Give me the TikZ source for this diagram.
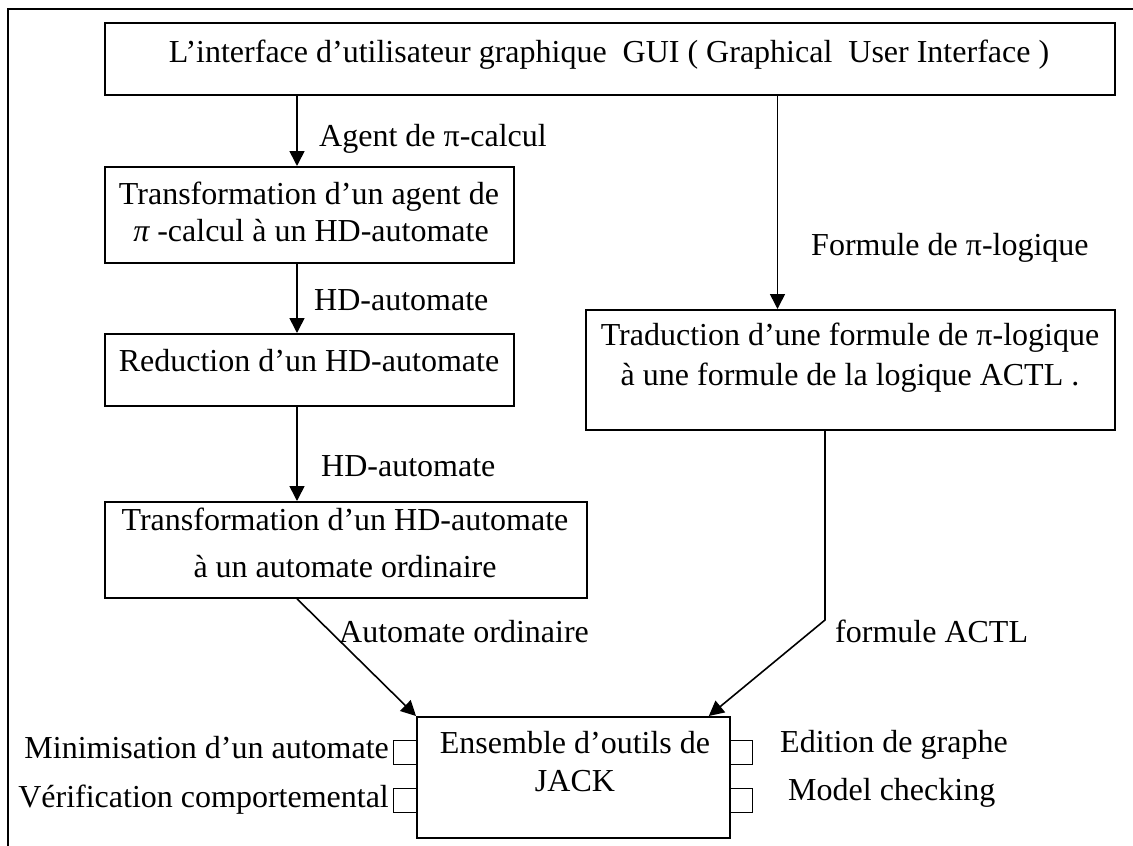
\documentclass[tikz,border=0pt]{standalone}
\usepackage{fontspec}
\setmainfont{Liberation Serif}
\usetikzlibrary{arrows.meta}
\begin{document}
\begin{tikzpicture}[x=1pt, y=-1pt,
  font=\fontsize{32}{38}\selectfont,
  box/.style={draw, line width=1.8pt, rectangle, inner sep=0pt, anchor=north west},
  txt/.style={anchor=base, inner sep=0pt},
  lbl/.style={anchor=base west, inner sep=0pt},
  arr/.style={line width=1.6pt, -{Triangle[length=15pt,width=15pt]}},
  port/.style={draw, line width=1.3pt, rectangle, anchor=north west, inner sep=0pt,
               minimum width=23pt, minimum height=24pt}]
\useasboundingbox (0,0) rectangle (1133,846);

% outer frame
\draw[line width=2pt] (8,850) -- (8,9) -- (1140,9);

% boxes
\node[box, minimum width=1010pt, minimum height=72pt] (gui) at (104,22) {};
\node[box, minimum width=409pt, minimum height=96pt] (trans) at (104,166) {};
\node[box, minimum width=409pt, minimum height=72pt] (reduc) at (104,333) {};
\node[box, minimum width=482pt, minimum height=96pt] (ordin) at (104,501) {};
\node[box, minimum width=529pt, minimum height=120pt] (tradu) at (585,309) {};

% tool ports of the JACK box
\node[port] (pML) at (393,740) {};
\node[port] (pVL) at (393,788) {};
\node[port] (pER) at (729,740) {};
\node[port] (pMR) at (729,788) {};
\node[box, fill=white, minimum width=313pt, minimum height=121pt] (jack) at (416,716) {};

% box texts
\node[txt] (guiT) at (609,62) {L’interface d’utilisateur graphique\ \ GUI ( Graphical\ \ User Interface )};
\node[txt] (transA) at (309,204) {Transformation d’un agent de};
\node[txt] (transB) at (311,241) {{\itshape π} -calcul à un HD-automate};
\node[txt] (reducT) at (309,371) {Reduction d’un HD-automate};
\node[txt] (ordinA) at (345,530) {Transformation d’un HD-automate};
\node[txt] (ordinB) at (345,577) {à un automate ordinaire};
\node[txt] (traduA) at (850,345) {Traduction d’une formule de π-logique};
\node[txt] (traduB) at (850,385) {à une formule de la logique ACTL .};
\node[txt] (jackA) at (575,753) {Ensemble d’outils de};
\node[txt] (jackB) at (575,791) {JACK};

% connector labels
\node[lbl] (lAgent) at (319,146) {Agent de π-calcul};
\node[lbl] (lHD1) at (314,310) {HD-automate};
\node[lbl] (lHD2) at (321,476) {HD-automate};
\node[lbl] (lForm) at (811,255) {Formule de π-logique};
\node[lbl] (lAuto) at (339,642) {Automate ordinaire};
\node[lbl] (lACTL) at (835,642) {formule ACTL};

% tool labels
\node[anchor=base east, inner sep=0pt] (tMin) at (389,758) {Minimisation d’un automate};
\node[anchor=base east, inner sep=0pt] (tVer) at (389,807) {Vérification comportemental};
\node[lbl] (tEdi) at (780,752) {Edition de graphe};
\node[lbl] (tMod) at (788,800) {Model checking};

% connectors
\coordinate (cL) at (297,0);
\coordinate (cR) at (777.5,0);
\coordinate (cD) at (825,0);
\coordinate (bend) at (825,620);
\draw[arr] (cL |- gui.south) -- (cL |- trans.north);
\draw[arr] (cL |- trans.south) -- (cL |- reduc.north);
\draw[arr] (cL |- reduc.south) -- (cL |- ordin.north);
\draw[arr] (cR |- gui.south) -- (cR |- tradu.north);
\draw[arr] (cL |- ordin.south) -- (jack.north west);
\draw[arr] (cD |- tradu.south) -- (bend) -- ([xshift=-22pt]jack.north east);
\end{tikzpicture}
\end{document}
